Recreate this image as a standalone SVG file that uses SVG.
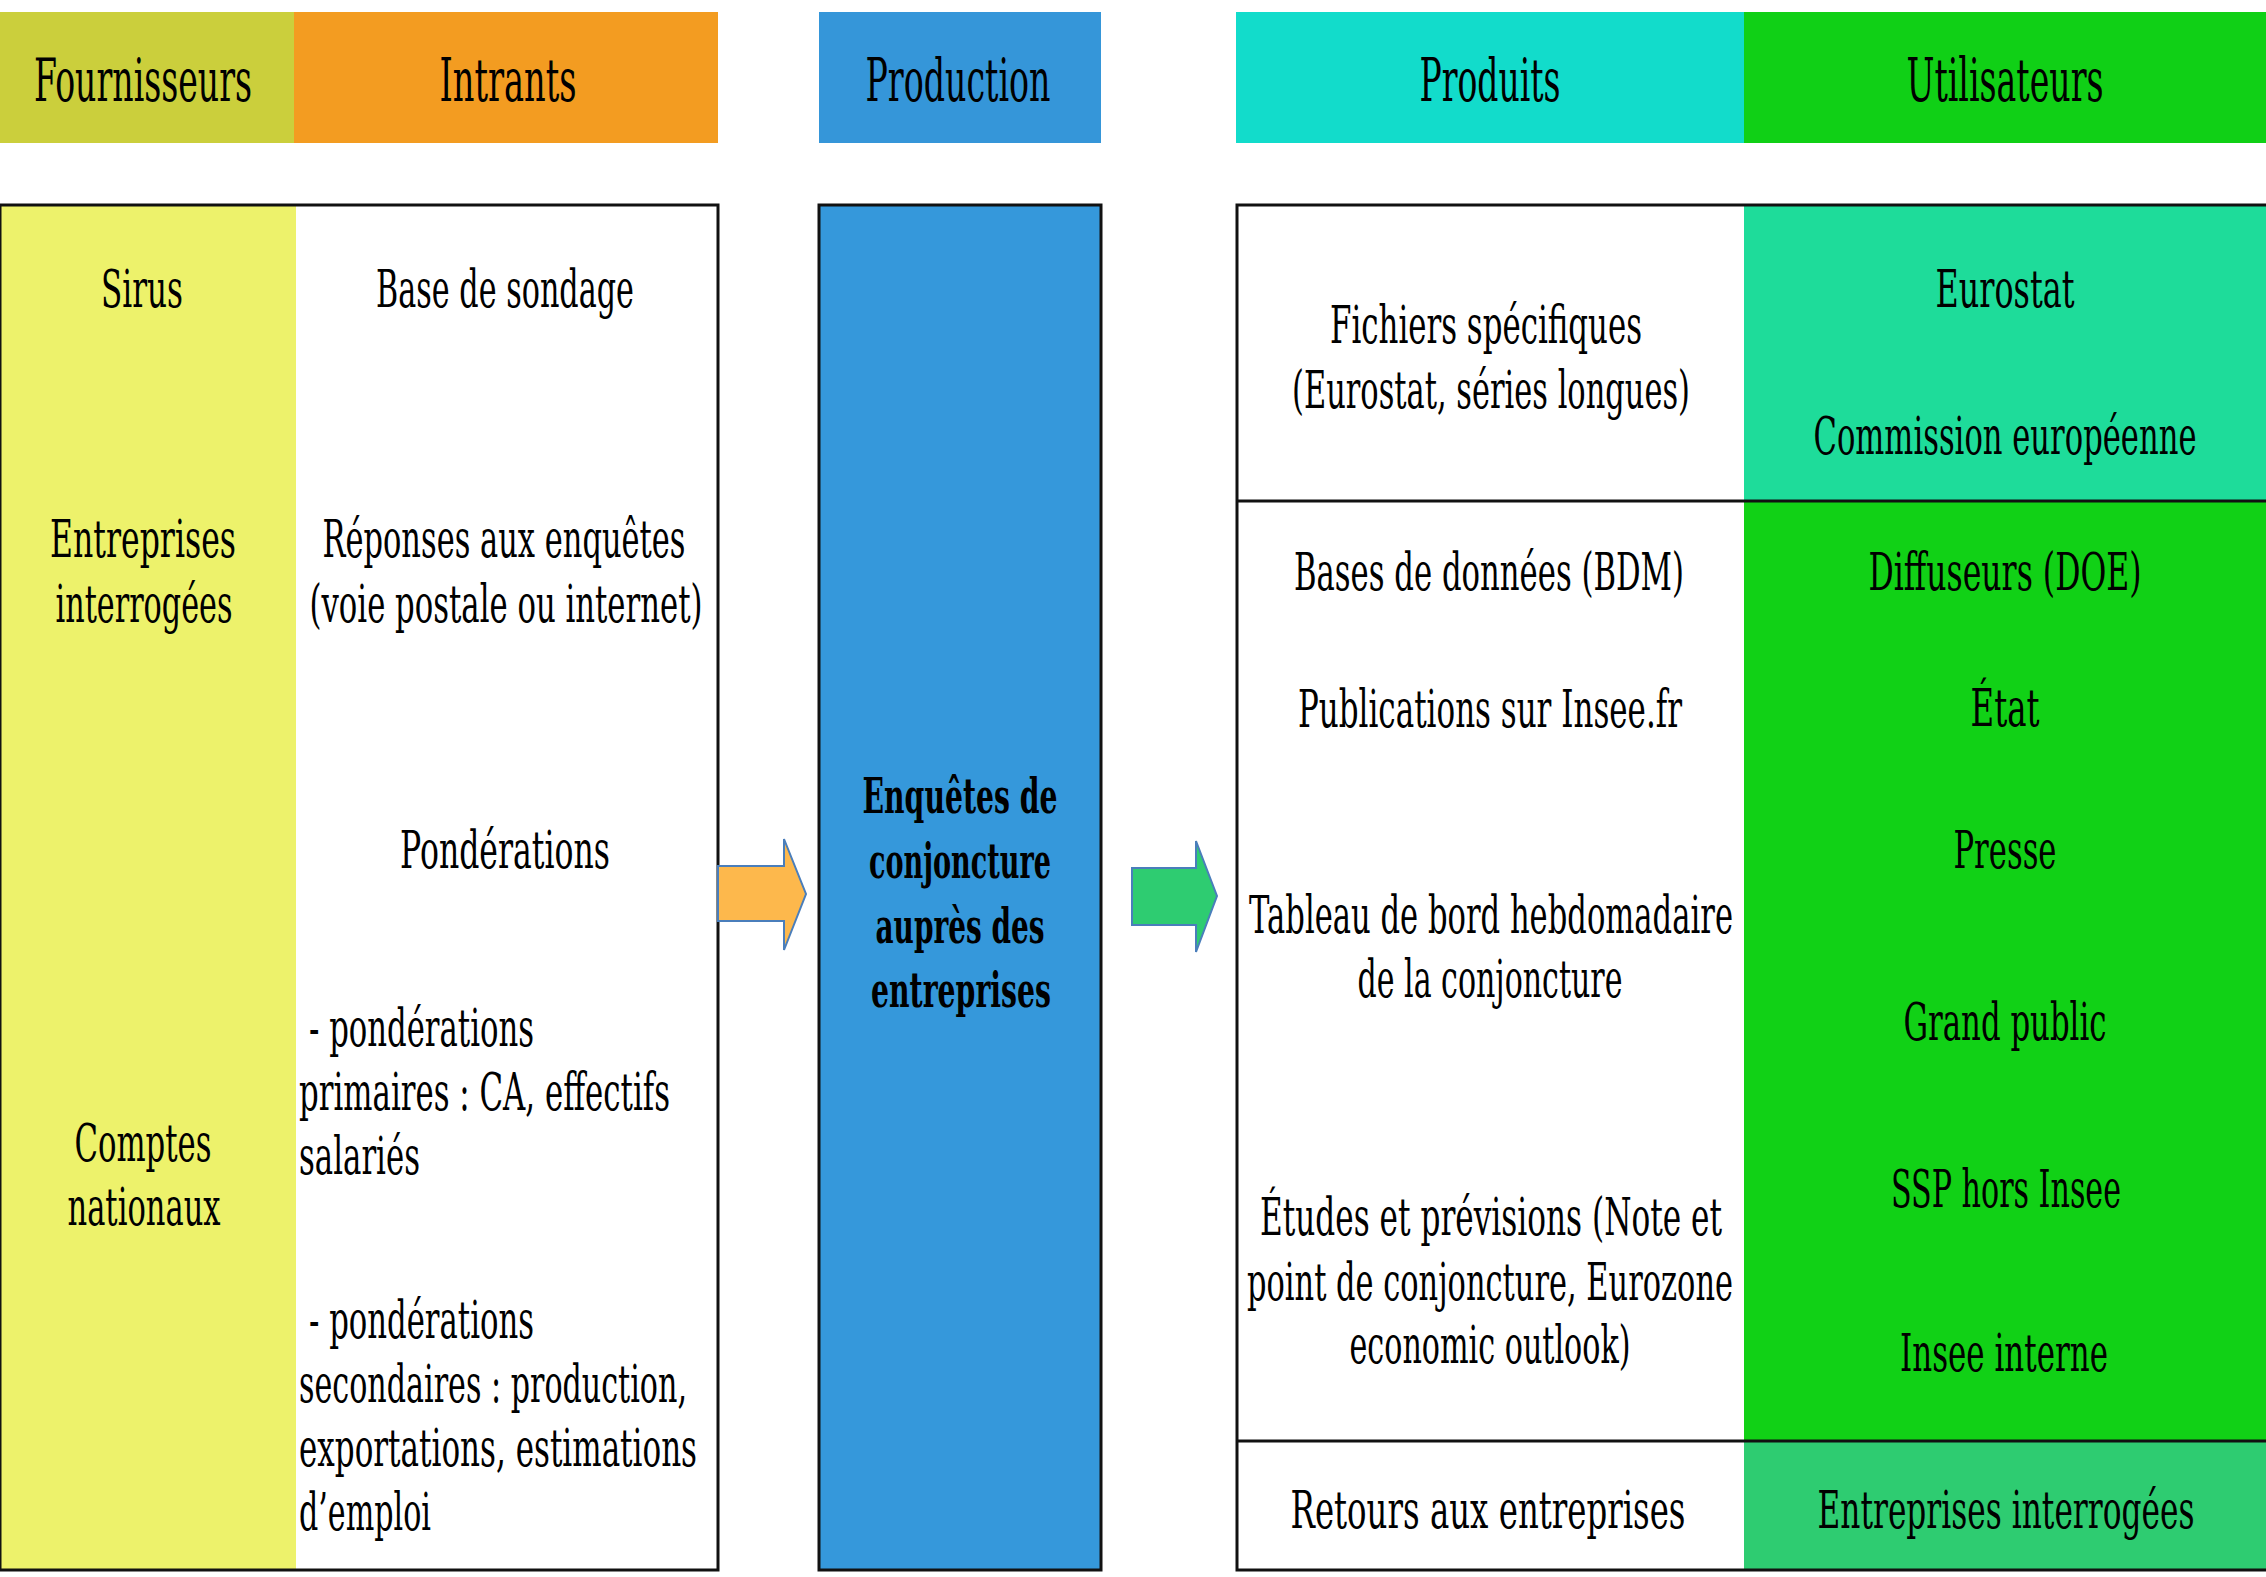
<svg xmlns="http://www.w3.org/2000/svg" width="2266" height="1577" viewBox="0 0 2266 1577">
<style>
text{font-family:"DejaVu Serif","Liberation Serif",serif;fill:#000;}
.h{font-size:33px;text-anchor:middle;}
.b{font-size:29px;text-anchor:middle;}
.l{font-size:29px;text-anchor:start;}
.p{font-size:28px;font-weight:bold;text-anchor:middle;}
.box{fill:none;stroke:#111;stroke-width:3;}
.arrow{stroke:#4a7ebb;stroke-width:2;stroke-linejoin:miter;}
</style>
<rect width="2266" height="1577" fill="#fff"/>

<g id="headers">
  <g id="h-fournisseurs"><rect x="0" y="12" width="294" height="131" fill="#cbcf3c"/><text class="h" transform="translate(143,101) scale(1,1.8)" textLength="218" lengthAdjust="spacingAndGlyphs">Fournisseurs</text></g>
  <g id="h-intrants"><rect x="294" y="12" width="424" height="131" fill="#f39c21"/><text class="h" transform="translate(508,101) scale(1,1.8)" textLength="137" lengthAdjust="spacingAndGlyphs">Intrants</text></g>
  <g id="h-production"><rect x="819" y="12" width="282" height="131" fill="#3596d9"/><text class="h" transform="translate(958,101) scale(1,1.8)" textLength="185" lengthAdjust="spacingAndGlyphs">Production</text></g>
  <g id="h-produits"><rect x="1236" y="12" width="508" height="131" fill="#12dccb"/><text class="h" transform="translate(1490,101) scale(1,1.8)" textLength="141" lengthAdjust="spacingAndGlyphs">Produits</text></g>
  <g id="h-utilisateurs"><rect x="1744" y="12" width="522" height="131" fill="#10d016"/><text class="h" transform="translate(2005,101) scale(1,1.8)" textLength="197" lengthAdjust="spacingAndGlyphs">Utilisateurs</text></g>
</g>

<g id="inputs-box">
  <rect x="0" y="205" width="296" height="1365" fill="#edf26b"/>
  <rect x="296" y="205" width="422" height="1365" fill="#fff"/>
  <rect class="box" x="0" y="205" width="718" height="1365"/>
</g>

<g id="fournisseurs">
  <g id="n-sirus"><text class="b" transform="translate(142,307) scale(1,1.8)" textLength="82" lengthAdjust="spacingAndGlyphs">Sirus</text></g>
  <g id="n-entreprises"><text class="b" transform="translate(143,557) scale(1,1.8)" textLength="186" lengthAdjust="spacingAndGlyphs">Entreprises</text><text class="b" transform="translate(144,622) scale(1,1.8)" textLength="177" lengthAdjust="spacingAndGlyphs">interrogées</text></g>
  <g id="n-comptes"><text class="b" transform="translate(143,1161) scale(1,1.8)" textLength="137" lengthAdjust="spacingAndGlyphs">Comptes</text><text class="b" transform="translate(144,1225) scale(1,1.8)" textLength="153" lengthAdjust="spacingAndGlyphs">nationaux</text></g>
</g>

<g id="intrants">
  <g id="n-base"><text class="b" transform="translate(505,307) scale(1,1.8)" textLength="258" lengthAdjust="spacingAndGlyphs">Base de sondage</text></g>
  <g id="n-reponses"><text class="b" transform="translate(504,557) scale(1,1.8)" textLength="363" lengthAdjust="spacingAndGlyphs">Réponses aux enquêtes</text><text class="b" transform="translate(506,622) scale(1,1.8)" textLength="393" lengthAdjust="spacingAndGlyphs">(voie postale ou internet)</text></g>
  <g id="n-ponderations"><text class="b" transform="translate(505,868) scale(1,1.8)" textLength="210" lengthAdjust="spacingAndGlyphs">Pondérations</text></g>
  <g id="n-primaires">
    <text class="l" transform="translate(309,1046) scale(1,1.8)" textLength="225" lengthAdjust="spacingAndGlyphs">- pondérations</text>
    <text class="l" transform="translate(299,1110) scale(1,1.8)" textLength="371" lengthAdjust="spacingAndGlyphs">primaires : CA, effectifs</text>
    <text class="l" transform="translate(299,1174) scale(1,1.8)" textLength="121" lengthAdjust="spacingAndGlyphs">salariés</text>
  </g>
  <g id="n-secondaires">
    <text class="l" transform="translate(309,1338) scale(1,1.8)" textLength="225" lengthAdjust="spacingAndGlyphs">- pondérations</text>
    <text class="l" transform="translate(299,1402) scale(1,1.8)" textLength="388" lengthAdjust="spacingAndGlyphs">secondaires : production,</text>
    <text class="l" transform="translate(299,1466) scale(1,1.8)" textLength="398" lengthAdjust="spacingAndGlyphs">exportations, estimations</text>
    <text class="l" transform="translate(299,1530) scale(1,1.8)" textLength="132" lengthAdjust="spacingAndGlyphs">d’emploi</text>
  </g>
</g>

<g id="n-production">
  <rect x="819" y="205" width="282" height="1365" fill="#3598db" stroke="#111" stroke-width="3"/>
  <text class="p" transform="translate(960,813) scale(1,1.72)" textLength="195" lengthAdjust="spacingAndGlyphs">Enquêtes de</text>
  <text class="p" transform="translate(960,878) scale(1,1.72)" textLength="182" lengthAdjust="spacingAndGlyphs">conjoncture</text>
  <text class="p" transform="translate(960,943) scale(1,1.72)" textLength="169" lengthAdjust="spacingAndGlyphs">auprès des</text>
  <text class="p" transform="translate(961,1007) scale(1,1.72)" textLength="180" lengthAdjust="spacingAndGlyphs">entreprises</text>
</g>

<g id="outputs-box">
  <rect x="1236" y="205" width="508" height="1365" fill="#fff"/>
  <rect x="1744" y="205" width="522" height="296" fill="#1edc9a"/>
  <rect x="1744" y="501" width="522" height="940" fill="#11d116"/>
  <rect x="1744" y="1441" width="522" height="129" fill="#2ecc71"/>
  <rect class="box" x="1237" y="205" width="1040" height="1365"/>
  <line x1="1236" y1="501" x2="2266" y2="501" stroke="#111" stroke-width="3"/>
  <line x1="1236" y1="1441" x2="2266" y2="1441" stroke="#111" stroke-width="3"/>
</g>

<g id="produits">
  <g id="n-fichiers"><text class="b" transform="translate(1486,343) scale(1,1.8)" textLength="312" lengthAdjust="spacingAndGlyphs">Fichiers spécifiques</text><text class="b" transform="translate(1491,408) scale(1,1.8)" textLength="398" lengthAdjust="spacingAndGlyphs">(Eurostat, séries longues)</text></g>
  <g id="n-bdm"><text class="b" transform="translate(1489,590) scale(1,1.8)" textLength="390" lengthAdjust="spacingAndGlyphs">Bases de données (BDM)</text></g>
  <g id="n-publications"><text class="b" transform="translate(1490,727) scale(1,1.8)" textLength="384" lengthAdjust="spacingAndGlyphs">Publications sur Insee.fr</text></g>
  <g id="n-tableau"><text class="b" transform="translate(1491,933) scale(1,1.8)" textLength="484" lengthAdjust="spacingAndGlyphs">Tableau de bord hebdomadaire</text><text class="b" transform="translate(1490,997) scale(1,1.8)" textLength="265" lengthAdjust="spacingAndGlyphs">de la conjoncture</text></g>
  <g id="n-etudes"><text class="b" transform="translate(1491,1235) scale(1,1.8)" textLength="462" lengthAdjust="spacingAndGlyphs">Études et prévisions (Note et</text><text class="b" transform="translate(1490,1300) scale(1,1.8)" textLength="486" lengthAdjust="spacingAndGlyphs">point de conjoncture, Eurozone</text><text class="b" transform="translate(1490,1363) scale(1,1.8)" textLength="281" lengthAdjust="spacingAndGlyphs">economic outlook)</text></g>
  <g id="n-retours"><text class="b" transform="translate(1488,1528) scale(1,1.8)" textLength="395" lengthAdjust="spacingAndGlyphs">Retours aux entreprises</text></g>
</g>

<g id="utilisateurs">
  <g id="n-eurostat"><text class="b" transform="translate(2005,307) scale(1,1.8)" textLength="139" lengthAdjust="spacingAndGlyphs">Eurostat</text></g>
  <g id="n-commission"><text class="b" transform="translate(2005,454) scale(1,1.8)" textLength="383" lengthAdjust="spacingAndGlyphs">Commission européenne</text></g>
  <g id="n-diffuseurs"><text class="b" transform="translate(2005,590) scale(1,1.8)" textLength="273" lengthAdjust="spacingAndGlyphs">Diffuseurs (DOE)</text></g>
  <g id="n-etat"><text class="b" transform="translate(2005,726) scale(1,1.8)" textLength="69" lengthAdjust="spacingAndGlyphs">État</text></g>
  <g id="n-presse"><text class="b" transform="translate(2005,868) scale(1,1.8)" textLength="103" lengthAdjust="spacingAndGlyphs">Presse</text></g>
  <g id="n-grandpublic"><text class="b" transform="translate(2005,1040) scale(1,1.8)" textLength="203" lengthAdjust="spacingAndGlyphs">Grand public</text></g>
  <g id="n-ssp"><text class="b" transform="translate(2006,1207) scale(1,1.8)" textLength="230" lengthAdjust="spacingAndGlyphs">SSP hors Insee</text></g>
  <g id="n-interne"><text class="b" transform="translate(2004,1371) scale(1,1.8)" textLength="208" lengthAdjust="spacingAndGlyphs">Insee interne</text></g>
  <g id="n-entreprises-u"><text class="b" transform="translate(2006,1528) scale(1,1.8)" textLength="377" lengthAdjust="spacingAndGlyphs">Entreprises interrogées</text></g>
</g>

<g id="connectors">
  <polygon class="arrow" fill="#fdb84c" points="718,866 784,866 784,839 806,894 784,950 784,921 718,921"/>
  <polygon class="arrow" fill="#2ecc71" points="1132,868 1196,868 1196,841 1217,896 1196,952 1196,925 1132,925"/>
</g>
</svg>
